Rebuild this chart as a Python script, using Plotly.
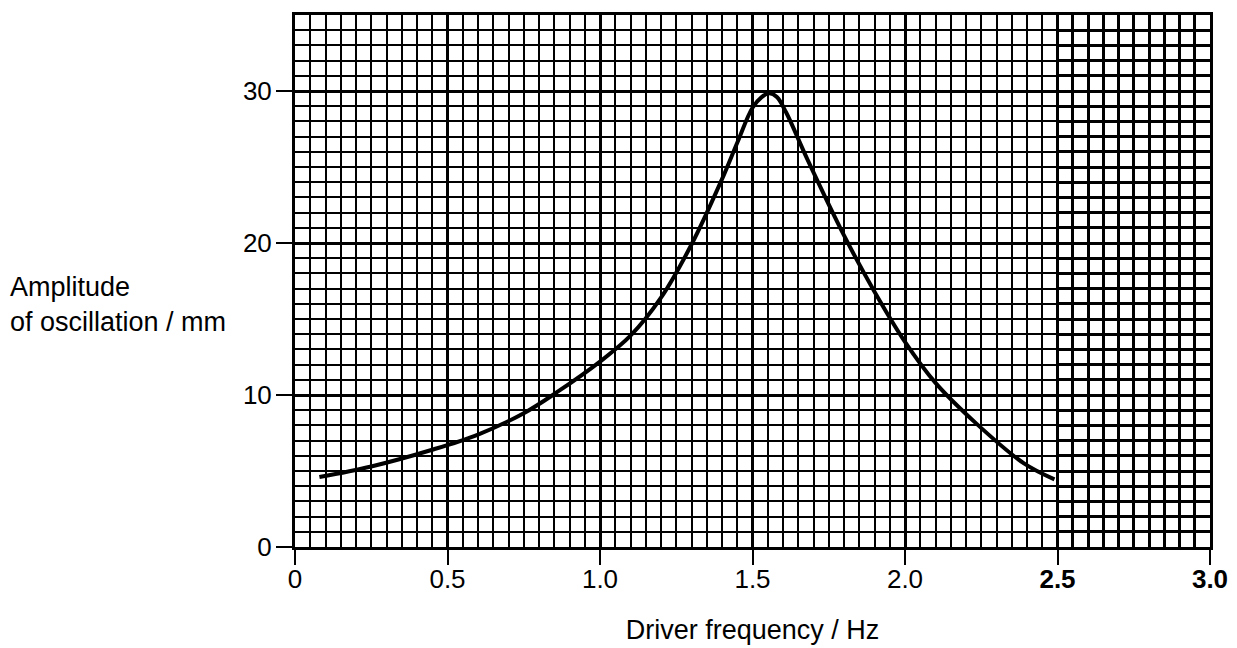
import plotly.graph_objects as go

# Data
freq_hz = [0.08, 0.25, 0.45, 0.60, 0.75, 0.86, 1.00, 1.10, 1.20, 1.30, 1.40,
           1.45, 1.50, 1.53, 1.555, 1.58, 1.61, 1.68, 1.80, 1.90, 2.00, 2.10, 2.235, 2.39, 2.49]
amplitude_mm = [4.6, 5.3, 6.4, 7.4, 8.8, 10.2, 12.2, 13.9, 16.4, 19.9, 24.2,
                26.6, 28.9, 29.6, 29.85, 29.6, 28.6, 25.5, 20.5, 16.8, 13.5, 10.8, 8.1, 5.5, 4.45]

x_tick_vals = [0, 0.5, 1.0, 1.5, 2.0, 2.5, 3.0]
x_tick_text = ["0", "0.5", "1.0", "1.5", "2.0", "<b>2.5</b>", "<b>3.0</b>"]
y_tick_vals = [0, 10, 20, 30]
y_tick_text = ["0", "10", "20", "30"]

FONT = "Liberation Sans, Arial, Helvetica, sans-serif"

fig = go.Figure()
fig.add_trace(go.Scatter(
    x=freq_hz, y=amplitude_mm, mode="lines",
    line=dict(color="black", width=4, shape="spline", smoothing=1.0),
    showlegend=False, hoverinfo="skip"))

# invisible trace for the denser-looking grid region (2.5 - 3.0 Hz)
fig.add_trace(go.Scatter(x=[2.5, 3.0], y=[0, 35], mode="markers",
                         marker=dict(opacity=0), xaxis="x2", yaxis="y2",
                         showlegend=False, hoverinfo="skip"))

fig.update_layout(
    width=1237, height=648,
    margin=dict(l=295, r=27, t=15, b=101, autoexpand=False),
    paper_bgcolor="white", plot_bgcolor="rgba(0,0,0,0)",
    font=dict(family=FONT, size=26, color="black"),
    xaxis=dict(
        range=[0, 3.0], domain=[0, 1], automargin=False,
        tickvals=x_tick_vals, ticktext=x_tick_text,
        ticks="outside", ticklen=15, tickwidth=2, tickcolor="black",
        showgrid=True, gridcolor="black", gridwidth=3,
        minor=dict(dtick=0.05, showgrid=True, gridcolor="black", gridwidth=1.6, ticks=""),
        showline=True, linecolor="black", linewidth=3, mirror=True,
        zeroline=False, ticklabelstandoff=-8,
        title=dict(text="Driver frequency / Hz", font=dict(size=27), standoff=27),
    ),
    yaxis=dict(
        range=[0, 35], domain=[0, 1], automargin=False,
        tickvals=y_tick_vals, ticktext=y_tick_text,
        ticks="outside", ticklen=16, tickwidth=2, tickcolor="black",
        showgrid=True, gridcolor="black", gridwidth=3,
        minor=dict(dtick=1, showgrid=True, gridcolor="black", gridwidth=1.6, ticks=""),
        showline=True, linecolor="black", linewidth=3, mirror=True,
        zeroline=False, ticklabelstandoff=-1,
    ),
    xaxis2=dict(
        range=[2.5, 3.0], domain=[5/6, 1], anchor="y2", automargin=False,
        showticklabels=False, ticks="", showline=False, zeroline=False,
        showgrid=True, gridcolor="black", gridwidth=3, dtick=0.05,
    ),
    yaxis2=dict(
        range=[0, 35], domain=[0, 1], anchor="x2", automargin=False,
        showticklabels=False, ticks="", showline=False, zeroline=False,
        showgrid=True, gridcolor="black", gridwidth=3, dtick=1,
    ),
    annotations=[dict(
        text="Amplitude<br>of oscillation / mm", xref="paper", yref="paper",
        x=-287/915, y=0.455, xanchor="left", yanchor="middle", align="left",
        showarrow=False, font=dict(size=27, family=FONT))],
)

fig.write_html("out.html")
